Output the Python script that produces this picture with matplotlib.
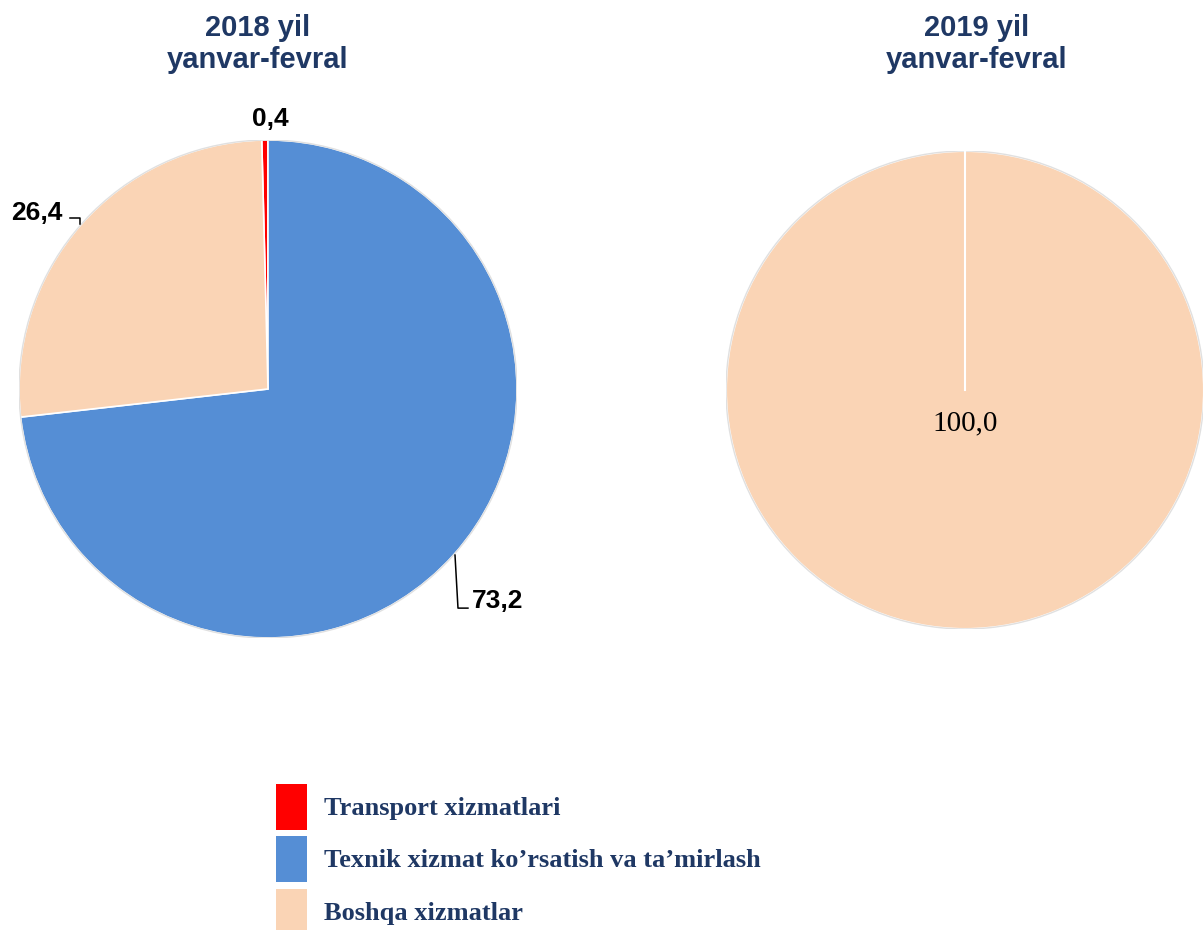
import matplotlib
matplotlib.use("Agg")
import matplotlib.pyplot as plt
import numpy as np
from matplotlib.patches import Patch, Circle

# data
categories = ["Transport xizmatlari", "Texnik xizmat ko\u2019rsatish va ta\u2019mirlash", "Boshqa xizmatlar"]
values_2018 = [0.4, 73.2, 26.4]
values_2019 = [0.0, 0.0, 100.0]
labels_2018 = ["0,4", "73,2", "26,4"]
label_2019 = "100,0"
titles = ["2018 yil\nyanvar-fevral", "2019 yil\nyanvar-fevral"]
colors = ["#FF0000", "#558ED5", "#FAD4B5"]

navy = "#1F3864"
W, H = 1203, 930
fig = plt.figure(figsize=(W / 100, H / 100), dpi=100)

def px_axes(cx, cy, r):
    # axes box in pixel units (origin top-left)
    return fig.add_axes([(cx - r) / W, (H - cy - r) / H, 2 * r / W, 2 * r / H])

# 2018 pie
ax1 = px_axes(268, 389, 249)
start = 90 + values_2018[0] * 3.6
ax1.pie(values_2018, colors=colors, startangle=start, counterclock=False,
        wedgeprops=dict(edgecolor="white", linewidth=1.2))
ax1.add_patch(Circle((0, 0), 1.0, fill=False, edgecolor="#E0E0E0", lw=1.0))
ax1.set_xlim(-1, 1)
ax1.set_ylim(-1, 1)
ax1.set_aspect("equal")
ax1.axis("off")

lab_kw = dict(fontsize=19, fontweight="bold", family="Liberation Sans", color="black",
              ha="center", va="center")
ax1.text(0.01, 1.085, labels_2018[0], **lab_kw)
ax1.text(0.92, -0.85, labels_2018[1], **lab_kw)
ax1.text(-0.93, 0.705, labels_2018[2], **lab_kw)
ax1.plot([0.751, 0.763, 0.803], [-0.667, -0.880, -0.880], color="black", lw=1.1, clip_on=False)
ax1.plot([-0.795, -0.755, -0.755], [0.687, 0.687, 0.663], color="black", lw=1.1, clip_on=False)

# 2019 pie
ax2 = px_axes(965, 390, 239)
vals = [v for v in values_2019 if v > 0]
cols = [c for v, c in zip(values_2019, colors) if v > 0]
start2 = 90
ax2.pie(vals, colors=cols, startangle=start2, counterclock=False,
        wedgeprops=dict(edgecolor="white", linewidth=1.5))
# slice border of the single full wedge
a = np.deg2rad(start2)
ax2.plot([0, np.cos(a)], [0, np.sin(a)], color="white", lw=1.5)
ax2.add_patch(Circle((0, 0), 1.0, fill=False, edgecolor="#E0E0E0", lw=1.0))
ax2.set_xlim(-1, 1)
ax2.set_ylim(-1, 1)
ax2.set_aspect("equal")
ax2.axis("off")
ax2.text(0, -0.14, label_2019, fontsize=21, family="Liberation Serif", color="black",
         ha="center", va="center")

# titles
title_kw = dict(fontsize=21, fontweight="bold", family="Liberation Sans", color=navy,
                ha="center", va="center", linespacing=1.2)
fig.text(258 / W, 1 - 44 / H, titles[0], **title_kw)
fig.text(977 / W, 1 - 44 / H, titles[1], **title_kw)

# legend
handles = [Patch(facecolor=c, edgecolor="none") for c in colors]
leg = fig.legend(handles, categories, loc="upper left", bbox_to_anchor=(276 / W, 1 - 784 / H),
                 frameon=False, borderpad=0, borderaxespad=0,
                 handlelength=1.17, handleheight=2.3, labelspacing=0.24, handletextpad=0.64,
                 prop=dict(family="Liberation Serif", weight="bold", size=19))
for t in leg.get_texts():
    t.set_color(navy)

fig.savefig("out.png", dpi=100)
